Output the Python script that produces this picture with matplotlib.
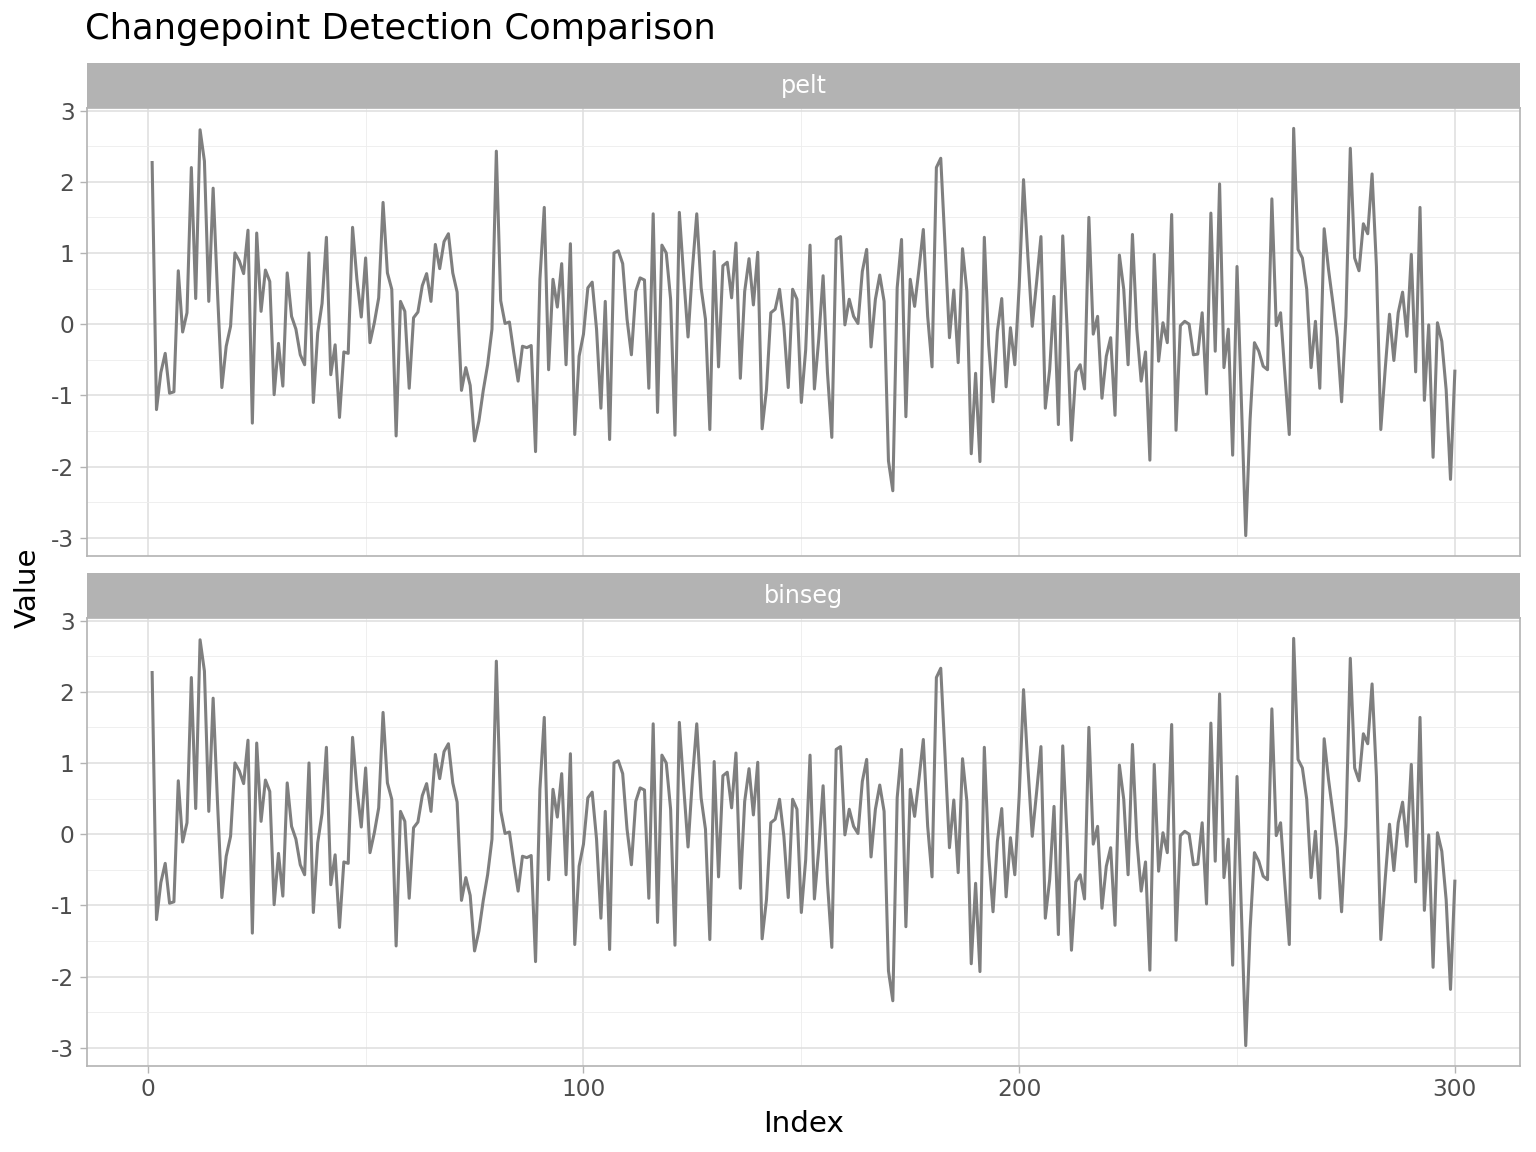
import numpy as np
import matplotlib
matplotlib.use("Agg")
import matplotlib.pyplot as plt

# values (same series in both facets)
values = [
    2.27, -1.20, -0.68, -0.41, -0.97, -0.95, 0.75, -0.11, 0.16, 2.20,
    0.36, 2.73, 2.29, 0.32, 1.91, 0.45, -0.89, -0.31, -0.03, 1.00,
    0.89, 0.71, 1.32, -1.39, 1.28, 0.18, 0.76, 0.60, -0.99, -0.27,
    -0.87, 0.72, 0.11, -0.07, -0.43, -0.57, 1.00, -1.10, -0.12, 0.29,
    1.22, -0.71, -0.29, -1.31, -0.39, -0.41, 1.36, 0.63, 0.10, 0.93,
    -0.26, 0.02, 0.37, 1.71, 0.72, 0.49, -1.57, 0.32, 0.18, -0.90,
    0.09, 0.17, 0.54, 0.71, 0.32, 1.12, 0.78, 1.16, 1.27, 0.72,
    0.45, -0.93, -0.61, -0.86, -1.64, -1.36, -0.93, -0.57, -0.07, 2.43,
    0.33, 0.01, 0.03, -0.40, -0.80, -0.31, -0.33, -0.30, -1.79, 0.63,
    1.64, -0.64, 0.63, 0.24, 0.85, -0.57, 1.13, -1.55, -0.45, -0.14,
    0.51, 0.59, -0.07, -1.18, 0.32, -1.62, 1.00, 1.03, 0.85, 0.07,
    -0.43, 0.46, 0.65, 0.62, -0.90, 1.55, -1.24, 1.11, 1.00, 0.35,
    -1.56, 1.57, 0.67, -0.18, 0.77, 1.55, 0.51, 0.07, -1.48, 1.02,
    -0.60, 0.82, 0.87, 0.37, 1.14, -0.76, 0.46, 0.92, 0.27, 1.01,
    -1.47, -0.92, 0.16, 0.21, 0.49, -0.03, -0.89, 0.49, 0.35, -1.10,
    -0.36, 1.11, -0.91, -0.21, 0.68, -0.68, -1.59, 1.19, 1.23, -0.01,
    0.35, 0.11, 0.01, 0.74, 1.05, -0.32, 0.35, 0.69, 0.32, -1.92,
    -2.34, 0.51, 1.19, -1.30, 0.63, 0.25, 0.77, 1.33, 0.11, -0.60,
    2.20, 2.33, 1.09, -0.19, 0.48, -0.54, 1.06, 0.46, -1.82, -0.69,
    -1.93, 1.22, -0.29, -1.09, -0.10, 0.36, -0.88, -0.05, -0.57, 0.53,
    2.03, 0.95, -0.03, 0.59, 1.23, -1.18, -0.64, 0.39, -1.41, 1.24,
    -0.05, -1.63, -0.67, -0.57, -0.91, 1.50, -0.14, 0.11, -1.04, -0.45,
    -0.19, -1.28, 0.97, 0.49, -0.57, 1.26, -0.07, -0.80, -0.39, -1.91,
    0.98, -0.52, 0.02, -0.26, 1.54, -1.49, -0.02, 0.04, 0.00, -0.43,
    -0.42, 0.16, -0.98, 1.56, -0.38, 1.97, -0.61, -0.07, -1.84, 0.81,
    -1.10, -2.97, -1.34, -0.26, -0.38, -0.59, -0.64, 1.76, -0.02, 0.16,
    -0.71, -1.55, 2.75, 1.05, 0.93, 0.49, -0.61, 0.04, -0.90, 1.34,
    0.77, 0.30, -0.19, -1.09, 0.11, 2.47, 0.93, 0.75, 1.41, 1.27,
    2.11, 0.81, -1.48, -0.64, 0.14, -0.51, 0.16, 0.45, -0.17, 0.98,
    -0.67, 1.64, -1.07, -0.01, -1.87, 0.02, -0.24, -0.92, -2.18, -0.66,
]
index = np.arange(1, len(values) + 1)
methods = ["pelt", "binseg"]
x_ticks = [0, 100, 200, 300]
y_ticks = [-3, -2, -1, 0, 1, 2, 3]

plt.rcParams["axes.unicode_minus"] = False
plt.rcParams["font.family"] = "DejaVu Sans"

fig = plt.figure(figsize=(7.68, 5.76), dpi=200)

# ggplot style 5% expansion
xr = index.max() - index.min()
xlim = (index.min() - 0.05 * xr, index.max() + 0.05 * xr)
vmin, vmax = min(values), max(values)
yr = vmax - vmin
ylim = (vmin - 0.05 * yr, vmax + 0.05 * yr)

left, right = 87 / 1536, 1520 / 1536
panels = [(556, 108, 63), (1066, 618, 573)]  # bottom, top, strip top in px

for k, (m, (pb, pt, st)) in enumerate(zip(methods, panels)):
    ax = fig.add_axes([left, 1 - pb / 1152, right - left, (pb - pt) / 1152])
    ax.plot(index, values, color="#7f7f7f", lw=1.1)
    ax.set_xlim(xlim)
    ax.set_ylim(ylim)
    ax.set_xticks(x_ticks)
    ax.set_xticks([50, 150, 250], minor=True)
    ax.set_yticks(y_ticks)
    ax.set_yticks([-2.5, -1.5, -0.5, 0.5, 1.5, 2.5], minor=True)
    ax.grid(which="major", color="#dedede", lw=0.55)
    ax.grid(which="minor", color="#ededed", lw=0.3)
    ax.set_axisbelow(True)
    for s in ax.spines.values():
        s.set_color("#b3b3b3")
        s.set_linewidth(0.6)
    ax.tick_params(which="minor", length=0)
    ax.tick_params(which="major", color="#b3b3b3", length=2.5, width=0.5,
                   labelsize=8.4, labelcolor="#4d4d4d", pad=2)
    if k == 0:
        ax.tick_params(axis="x", which="major", labelbottom=False, length=0)
    else:
        ax.set_xlabel("Index", fontsize=10.6, labelpad=3)

    # strip
    sax = fig.add_axes([left, 1 - pt / 1152, right - left, (pt - st) / 1152])
    sax.set_facecolor("#b3b3b3")
    sax.set_xticks([])
    sax.set_yticks([])
    for s in sax.spines.values():
        s.set_visible(False)
    sax.text(0.5, 0.5, m, color="white", fontsize=8.6,
             ha="center", va="center", transform=sax.transAxes)

fig.text(28 / 1536, 1 - 588 / 1152, "Value", rotation=90, fontsize=10.6,
         ha="center", va="center")
fig.text(85 / 1536, 1 - 29 / 1152, "Changepoint Detection Comparison",
         fontsize=12.7, ha="left", va="center")

fig.savefig("out.png", dpi=200)
